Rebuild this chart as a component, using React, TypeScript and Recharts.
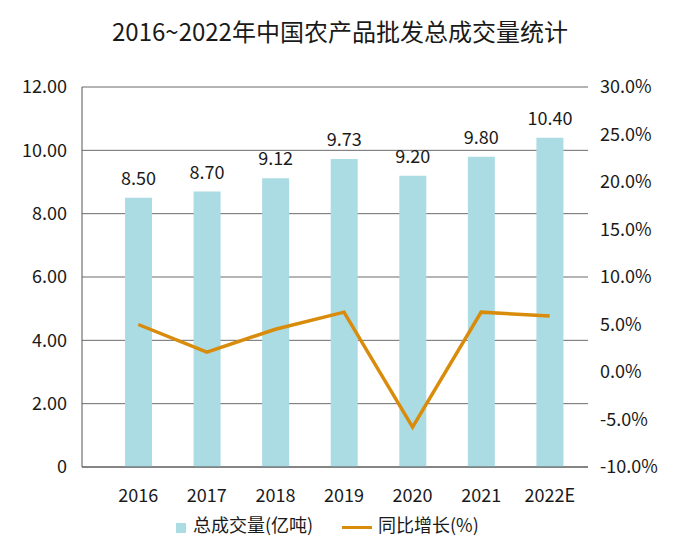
import React from 'react'
import {
  ComposedChart,
  Bar,
  Line,
  XAxis,
  YAxis,
  CartesianGrid,
  LabelList,
} from 'recharts'

const years = ['2016', '2017', '2018', '2019', '2020', '2021', '2022E']
const volume = [8.5, 8.7, 9.12, 9.73, 9.2, 9.8, 10.4]
const growth = [5.0, 2.1, 4.5, 6.3, -5.8, 6.3, 5.9]
const leftTicks = [0, 2, 4, 6, 8, 10, 12]
const rightTicks = [-10, -5, 0, 5, 10, 15, 20, 25, 30]

const data = years.map((year, i) => ({ year, volume: volume[i], growth: growth[i] }))

const FONT = '"Noto Sans CJK SC", "Noto Sans", sans-serif'
const BAR = '#abdbe3'
const LINE = '#d98c0b'
const TEXT = '#1a1a1a'

export default function App() {
  return (
    <div style={{ position: 'absolute', left: 0, top: 0, width: 680, height: 552, fontFamily: FONT, color: TEXT }}>
      <div
        style={{
          position: 'absolute',
          left: 0,
          top: 19,
          width: 680,
          textAlign: 'center',
          fontSize: 24,
          lineHeight: '24px',
        }}
      >
        2016~2022年中国农产品批发总成交量统计
      </div>
      <ComposedChart width={680} height={552} data={data} margin={{ top: 87, right: 12, bottom: 45, left: 12 }}>
        <CartesianGrid yAxisId="left" vertical={false} stroke="#6b6b6b" />
        <XAxis
          dataKey="year"
          padding={{ left: 22, right: 4 }}
          axisLine={{ stroke: '#555' }}
          tickLine={false}
          tickMargin={16}
          height={40}
          tick={{ fontSize: 18, fill: TEXT, fontFamily: FONT }}
        />
        <YAxis
          yAxisId="left"
          domain={[0, 12]}
          ticks={leftTicks}
          width={70}
          axisLine={{ stroke: '#555' }}
          tickLine={false}
          tickMargin={9}
          tickFormatter={(v: number) => (v === 0 ? '0' : v.toFixed(2))}
          tick={{ fontSize: 18, fill: TEXT, fontFamily: FONT }}
        />
        <YAxis
          yAxisId="right"
          orientation="right"
          domain={[-10, 30]}
          ticks={rightTicks}
          width={80}
          axisLine={false}
          tickLine={false}
          tickMargin={6}
          tickFormatter={(v: number) => `${v.toFixed(1)}%`}
          tick={{ fontSize: 18, fill: TEXT, fontFamily: FONT }}
        />
        <Bar yAxisId="left" dataKey="volume" fill={BAR} barSize={27} isAnimationActive={false}>
          <LabelList
            dataKey="volume"
            position="top"
            offset={13}
            formatter={(v: number) => v.toFixed(2)}
            style={{ fontSize: 18, fill: TEXT, fontFamily: FONT }}
          />
        </Bar>
        <Line
          yAxisId="right"
          dataKey="growth"
          stroke={LINE}
          strokeWidth={3.5}
          dot={false}
          activeDot={false}
          isAnimationActive={false}
        />
      </ComposedChart>
      <div style={{ position: 'absolute', left: 176, top: 523, width: 10, height: 10, background: BAR }} />
      <div style={{ position: 'absolute', left: 193, top: 515, fontSize: 18, lineHeight: '18px', whiteSpace: 'nowrap' }}>
        总成交量(亿吨)
      </div>
      <div style={{ position: 'absolute', left: 342, top: 526, width: 30, height: 3, background: LINE }} />
      <div style={{ position: 'absolute', left: 378, top: 515, fontSize: 18, lineHeight: '18px', whiteSpace: 'nowrap' }}>
        同比增长(%)
      </div>
    </div>
  )
}
